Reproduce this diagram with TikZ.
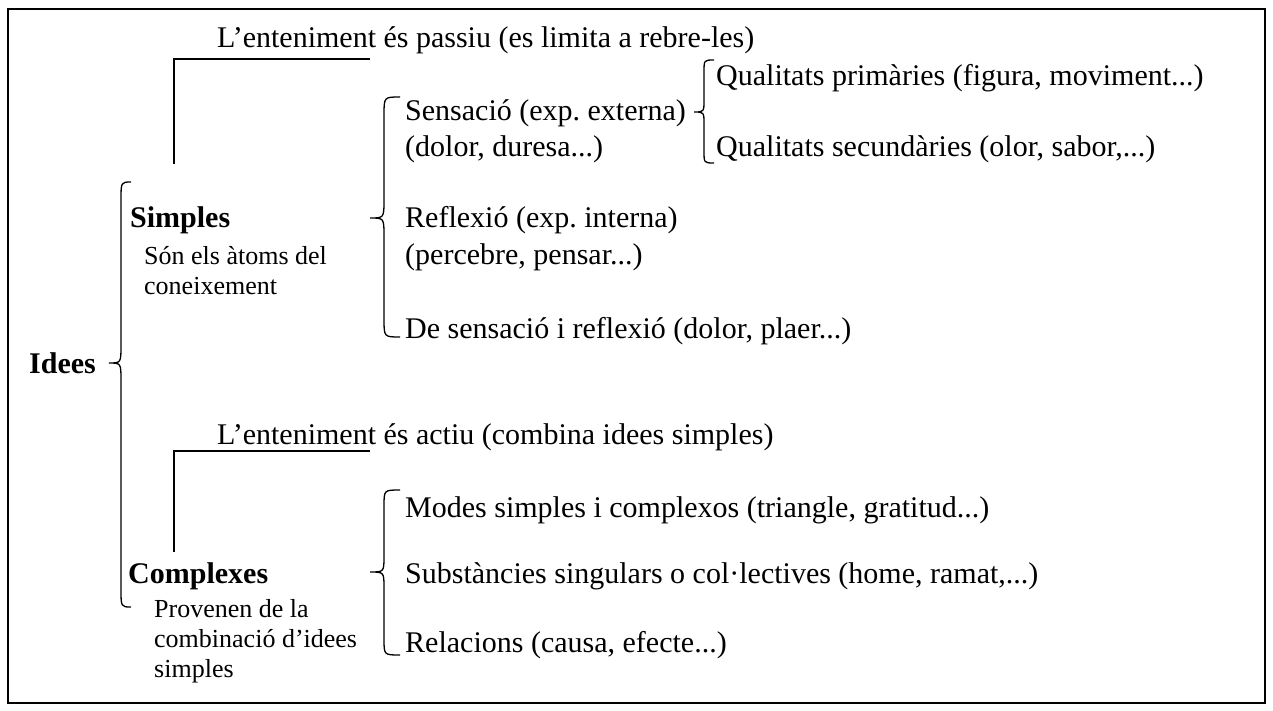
\documentclass[tikz,border=0pt]{standalone}
\usepackage{fontspec}
\setmainfont{Liberation Serif}
\frenchspacing
\tikzset{
  txt/.style={anchor=base west, inner sep=0pt, font=\fontsize{30}{34}\selectfont},
  bold/.style={txt, font=\fontsize{30}{34}\selectfont\bfseries},
  small/.style={anchor=base west, inner sep=0pt, font=\fontsize{26}{30}\selectfont},
  ln/.style={line width=1.6pt},
  br/.style={line width=1.3pt}
}
\newcommand{\mybrace}[7]{% xr xv xc ytop ymid ybot curl
  \draw[br] (#1,#4) .. controls (#2,#4) .. (#2,#4+#7) -- (#2,#5-#7)
    .. controls (#2,#5) .. (#3,#5) .. controls (#2,#5) .. (#2,#5+#7)
    -- (#2,#6-#7) .. controls (#2,#6) .. (#1,#6);}
\begin{document}
\begin{tikzpicture}[x=1pt,y=-1pt]
\useasboundingbox (0,0) rectangle (1273,711);
\draw[line width=1.8pt] (8,9) rectangle (1265,703);
% top part
\node[txt] (t1) at (217,48) {L’enteniment és passiu (es limita a rebre-les)};
\coordinate (c1a) at (174,164);
\coordinate (c1b) at (174,59);
\coordinate (c1c) at (370,59);
\draw[ln] (c1a) -- (c1b) -- (c1c);
\node[txt] (qp) at (716,86) {Qualitats primàries (figura, moviment...)};
\node[txt] (qs) at (716,157) {Qualitats secundàries (olor, sabor,...)};
\node[txt] (s1) at (405,121) {Sensació (exp. externa)};
\node[txt] (s2) at (405,157) {(dolor, duresa...)};
\node[txt] (r1) at (405,228) {Reflexió (exp. interna)};
\node[txt] (r2) at (405,264) {(percebre, pensar...)};
\node[txt] (d) at (405,338) {De sensació i reflexió (dolor, plaer...)};
\node[bold] (simples) at (130,228) {Simples};
\node[small] (son1) at (144,264) {Són els àtoms del};
\node[small] (son2) at (144,294) {coneixement};
\node[bold] (idees) at (29,373) {Idees};
% bottom part
\node[txt] (t2) at (217,444) {L’enteniment és actiu (combina idees simples)};
\coordinate (c2a) at (174,552);
\coordinate (c2b) at (174,451);
\coordinate (c2c) at (370,451);
\draw[ln] (c2a) -- (c2b) -- (c2c);
\node[txt] (m) at (405,517) {Modes simples i complexos (triangle, gratitud...)};
\node[txt] (sub) at (405,583) {Substàncies singulars o col·lectives (home, ramat,...)};
\node[txt] (rel) at (405,652) {Relacions (causa, efecte...)};
\node[bold] (complexes) at (128,583) {Complexes};
\node[small] (p1) at (154,617) {Provenen de la};
\node[small] (p2) at (154,647) {combinació d’idees};
\node[small] (p3) at (154,677) {simples};
% braces
\mybrace{131}{121}{109}{182}{363}{607}{18}
\mybrace{400}{384}{370}{97}{218}{337}{18}
\mybrace{714}{704}{694}{60}{112}{163}{12}
\mybrace{400}{384}{370}{490}{572}{655}{16}
\end{tikzpicture}
\end{document}
